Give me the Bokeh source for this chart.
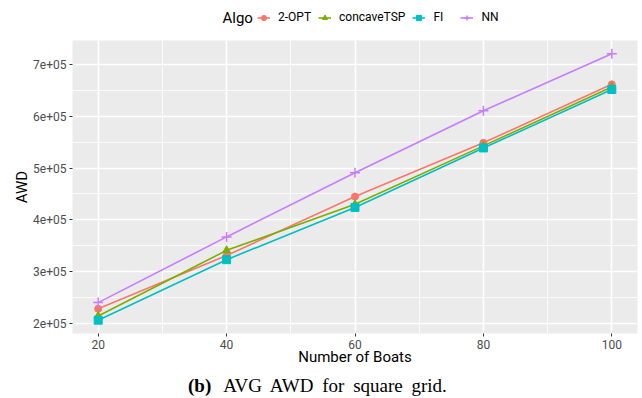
from bokeh.plotting import figure
from bokeh.models import FixedTicker, Legend, LegendItem, Range1d, Div, Label
from bokeh.layouts import column
from bokeh.embed import file_html
from bokeh.resources import INLINE

boats = [20, 40, 60, 80, 100]
opt2 = [228000, 331000, 445000, 549000, 662000]
concave = [214000, 341000, 430000, 543000, 657000]
fi = [206000, 323000, 424000, 539000, 652000]
nn = [240000, 367000, 491000, 611000, 721000]

series_names = ["2-OPT", "concaveTSP", "FI", "NN"]
series_vals = [opt2, concave, fi, nn]
colors = ["#F8766D", "#7CAE00", "#00BFC4", "#C77CFF"]
markers = ["circle", "triangle", "square", "cross"]
msizes = [7, 8, 8, 10]

x_ticks = [20, 40, 60, 80, 100]
x_minor = [30, 50, 70, 90]
y_ticks = [200000, 300000, 400000, 500000, 600000, 700000]
y_minor = [250000, 350000, 450000, 550000, 650000]
y_labels = ["2e+05", "3e+05", "4e+05", "5e+05", "6e+05", "7e+05"]

allv = [v for s in series_vals for v in s]
ylo, yhi = min(allv), max(allv)
ypad = 0.05 * (yhi - ylo)
xpad = 0.05 * (max(boats) - min(boats))

FONT = "Roboto"

# ---------- main plot ----------
p = figure(width=642, height=335, output_backend="svg", toolbar_location=None,
           x_range=Range1d(min(boats) - xpad, max(boats) + xpad),
           y_range=Range1d(ylo - ypad, yhi + ypad),
           min_border_left=72, min_border_right=5, min_border_top=0, min_border_bottom=42)
p.background_fill_color = "#EBEBEB"
p.border_fill_color = "white"
p.outline_line_color = None

p.xaxis.ticker = FixedTicker(ticks=x_ticks, minor_ticks=x_minor)
p.yaxis.ticker = FixedTicker(ticks=y_ticks, minor_ticks=y_minor)
p.yaxis.major_label_overrides = {t: l for t, l in zip(y_ticks, y_labels)}

for ax in (p.xaxis, p.yaxis):
    ax.axis_line_color = None
    ax.major_tick_line_color = "#333333"
    ax.major_tick_out = 3
    ax.major_tick_in = 0
    ax.minor_tick_line_color = None
    ax.major_label_text_font = FONT
    ax.major_label_text_font_size = "12px"
    ax.major_label_text_color = "#4D4D4D"
    ax.major_label_standoff = 2
    ax.axis_label_text_font = FONT
    ax.axis_label_text_font_size = "15px"
    ax.axis_label_text_font_style = "normal"
    ax.axis_label_text_color = "black"

p.xaxis.axis_label_standoff = -4
p.yaxis.axis_label_standoff = -1
p.xaxis.axis_label = "Number of Boats"
p.yaxis.axis_label = "AWD"

for g in (p.xgrid, p.ygrid):
    g.grid_line_color = "white"
    g.grid_line_width = 1.6
    g.minor_grid_line_color = "white"
    g.minor_grid_line_width = 0.8

for name, vals, c, m, s in zip(series_names, series_vals, colors, markers, msizes):
    p.line(boats, vals, line_color=c, line_width=1.6)
    p.scatter(boats, vals, marker=m, size=s, fill_color=c, line_color=c,
              line_width=1.5 if m == "cross" else 1)

# ---------- legend strip (same series, drawn off-range so only the legend shows) ----------
h = figure(width=642, height=40, output_backend="svg", toolbar_location=None,
           x_range=Range1d(min(boats) - xpad, max(boats) + xpad),
           y_range=Range1d(0, 1), x_axis_type=None, y_axis_type=None,
           min_border_left=0, min_border_right=0, min_border_top=0, min_border_bottom=0)
h.background_fill_color = "white"
h.border_fill_color = "white"
h.outline_line_color = None
h.xgrid.visible = False
h.ygrid.visible = False

items = []
for name, vals, c, m, s in zip(series_names, series_vals, colors, markers, msizes):
    r1 = h.line(boats, vals, line_color=c, line_width=1.6)
    r2 = h.scatter(boats, vals, marker=m, size=s, fill_color=c, line_color=c,
                   line_width=1.5 if m == "cross" else 1)
    items.append(LegendItem(label=name, renderers=[r1, r2]))

legend = Legend(items=items, orientation="horizontal", location=(185, 16),
                glyph_width=13, glyph_height=13, label_standoff=8, spacing=7,
                padding=0, margin=0, border_line_color=None, background_fill_alpha=0,
                label_height=13, label_text_font=FONT, label_text_font_size="12px",
                label_text_baseline="middle", label_text_color="black")
h.add_layout(legend, "center")
h.add_layout(Label(x=150, y=23, x_units="screen", y_units="screen", text="Algo",
                   text_font=FONT, text_font_size="15px", text_baseline="middle",
                   text_color="black"))

caption = Div(
    text='<b>(b)</b><span style="margin-left:12px; word-spacing:4px">AVG AWD for square grid.</span>',
    width=642, height=23,
    styles={"font-family": "'Liberation Serif', serif", "font-size": "19px",
            "line-height": "11px", "padding-left": "183px", "color": "black"})

layout = column(h, p, caption, spacing=0)
open("out.html", "w").write(file_html(layout, INLINE))
